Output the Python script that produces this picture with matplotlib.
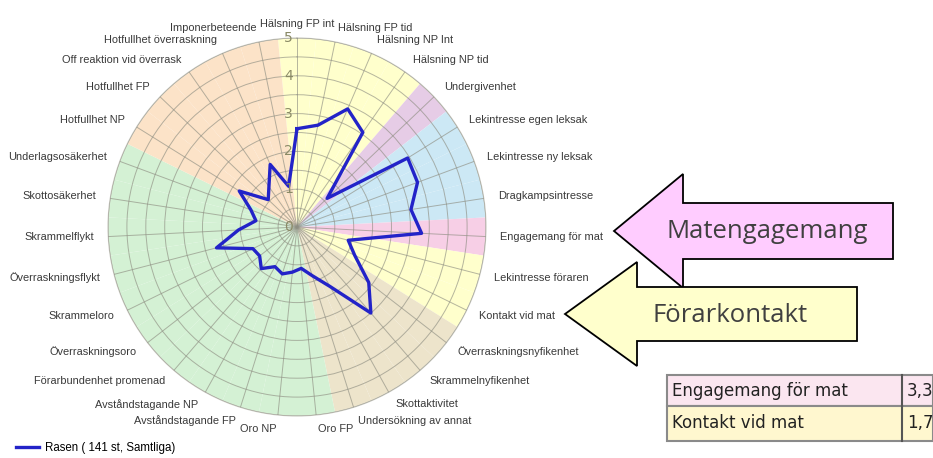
import matplotlib
matplotlib.use("Agg")
import matplotlib.pyplot as plt
import matplotlib.transforms as mtrans
from matplotlib.patches import Polygon, Rectangle
import numpy as np

W, H = 933, 458

categories = [
    "Hälsning FP int", "Hälsning FP tid", "Hälsning NP Int", "Hälsning NP tid",
    "Undergivenhet", "Lekintresse egen leksak", "Lekintresse ny leksak",
    "Dragkampsintresse", "Engagemang för mat", "Lekintresse föraren",
    "Kontakt vid mat", "Överraskningsnyfikenhet", "Skrammelnyfikenhet",
    "Skottaktivitet", "Undersökning av annat", "Oro FP", "Oro NP",
    "Avståndstagande FP", "Avståndstagande NP", "Förarbundenhet promenad",
    "Överraskningsoro", "Skrammeloro", "Överraskningsflykt", "Skrammelflykt",
    "Skottosäkerhet", "Underlagsosäkerhet", "Hotfullhet NP", "Hotfullhet FP",
    "Off reaktion vid överrask", "Hotfullhet överraskning", "Imponerbeteende",
]
values = [2.6, 2.75, 3.4, 3.05, 1.1, 3.45, 3.4, 3.05, 3.3, 1.4, 1.7, 2.4,
          3.0, 1.8, 1.35, 1.1, 1.2, 1.3, 1.2, 1.45, 1.25, 1.3, 2.2, 1.55,
          1.1, 1.3, 1.8, 1.05, 1.3, 1.8, 1.1]
# background group colour per category
group_colors = (["#FFFFCC"] * 4 + ["#E6CCE6"] + ["#CCE8F5"] * 3 + ["#F7CFE6"]
                + ["#FFFFCC"] * 2 + ["#EDE4CB"] * 4 + ["#D4F1D4"] * 11
                + ["#FCE3C8"] * 5)
series_label = "Rasen ( 141 st, Samtliga)"
table_rows = [("Engagemang för mat", "3,3"), ("Kontakt vid mat", "1,7")]

n = len(categories)
theta = np.arange(n) * 2 * np.pi / n
step = 2 * np.pi / n

fig = plt.figure(figsize=(W / 100, H / 100), dpi=100)
cx, cy, rad = 297, 227, 189
ax = fig.add_axes([(cx - rad) / W, 1 - (cy + rad) / H, 2 * rad / W, 2 * rad / H],
                  projection="polar")
ax.set_theta_zero_location("N")
ax.set_theta_direction(-1)
ax.set_ylim(0, 5)

ax.bar(theta, 5, width=step, bottom=0, color=group_colors, edgecolor="none",
       zorder=1)

ax.set_xticks(theta)
ax.set_xticklabels([])
ax.set_yticks(np.arange(0.5, 5.01, 0.5))
ax.set_yticklabels([])
ax.set_axisbelow(False)
ax.grid(True, color="#8E8E82", linewidth=0.7, alpha=0.65)
ax.spines["polar"].set_color("#C8C8C0")
ax.spines["polar"].set_linewidth(0.8)
ax.tick_params(length=0)

line, = ax.plot(np.append(theta, theta[0]), values + values[:1],
                color="#2323C8", linewidth=2.4, zorder=4, label=series_label)

# radial scale labels left of the top spoke
off = mtrans.ScaledTranslation(-6 / 72, 0, fig.dpi_scale_trans)
for r in range(6):
    ax.text(0, r, str(r), transform=ax.transData + off, ha="center",
            va="center", fontsize=10, color="#8A8A66", zorder=5)

for t, lab in zip(theta, categories):
    s = np.sin(t)
    if s > 0.05:
        ha = "left"
    elif s < -0.05:
        ha = "right"
    else:
        ha = "center"
    ax.text(t, 5.37, lab, ha=ha, va="center", fontsize=7.9,
            family="Liberation Sans", color="#3A3A3A")

fig.legend(handles=[line], loc="lower left", bbox_to_anchor=(0.006, -0.014),
           frameon=False, handlelength=2.0, handletextpad=0.5,
           prop={"family": "Liberation Sans", "size": 8.3})


def px(x, y):
    return (x / W, 1 - y / H)


def arrow(tip, head_x, head_half, body_half, tail_x, color, text, text_x):
    tx, ty = tip
    pts = [(tx, ty), (head_x, ty - head_half), (head_x, ty - body_half),
           (tail_x, ty - body_half), (tail_x, ty + body_half),
           (head_x, ty + body_half), (head_x, ty + head_half)]
    fig.add_artist(Polygon([px(*p) for p in pts], closed=True,
                           transform=fig.transFigure, facecolor=color,
                           edgecolor="black", linewidth=1.3))
    fig.text(*px(text_x, ty + 1), text, ha="center", va="center", fontsize=18.5,
             family="Open Sans", color="#404040")


arrow((614, 231), 683, 57, 28, 893, "#FFCCFF", "Matengagemang", 767)
arrow((565, 314), 637, 52, 27, 857, "#FFFFCC", "Förarkontakt", 730)

# small table bottom right
row_fill = ["#FBE6F0", "#FFF7CF"]
row_top = [375, 406]
row_h = [31, 35]
for (name, val), fc, top, h in zip(table_rows, row_fill, row_top, row_h):
    x0, y0 = px(667, top + h)
    fig.add_artist(Rectangle((x0, y0), (W - 667) / W, h / H,
                             transform=fig.transFigure, facecolor=fc,
                             edgecolor="#8A8A8A", linewidth=1.5))
    fig.add_artist(plt.Line2D([902 / W, 902 / W], [y0, y0 + h / H],
                              transform=fig.transFigure, color="#555555",
                              linewidth=1.5))
    fig.text(*px(672, top + h / 2), name, ha="left", va="center", fontsize=12,
             family="DejaVu Sans", color="#222222")
    fig.text(*px(907, top + h / 2), val, ha="left", va="center", fontsize=12,
             family="DejaVu Sans", color="#222222")

fig.savefig("out.png", dpi=100)
